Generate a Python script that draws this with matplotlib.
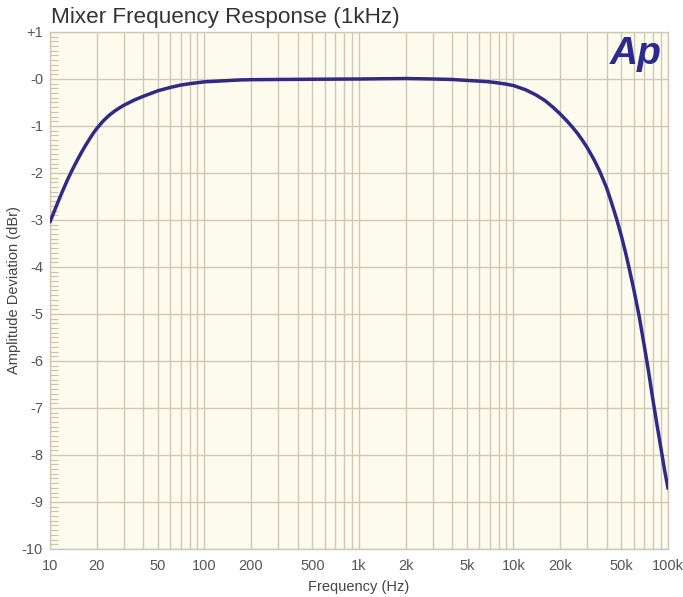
import matplotlib
matplotlib.use("Agg")
import matplotlib.pyplot as plt
from matplotlib.ticker import FixedLocator, MultipleLocator, NullFormatter

plt.rcParams['font.family'] = ['Liberation Sans', 'DejaVu Sans']

# Data
freq_hz = [10, 11, 12, 13, 14, 15, 16, 17, 18, 19, 20, 22, 24, 26, 28, 30, 35, 40,
           50, 60, 70, 80, 100, 130, 170, 200, 300, 500, 1000, 2000, 3000, 4000,
           5000, 6000, 7000, 8000, 9000, 10000, 12000, 14000, 16000, 18000, 20000,
           22000, 24000, 26000, 28000, 30000, 33000, 36000, 40000, 43000, 46600,
           50000, 53000, 56000, 60000, 65000, 70000, 75000, 80000, 85000, 91000,
           95000, 100000]
dev_dbr = [-3.04, -2.70, -2.40, -2.14, -1.92, -1.73, -1.56, -1.41, -1.28, -1.16,
           -1.06, -0.90, -0.78, -0.69, -0.62, -0.56, -0.45, -0.37,
           -0.25, -0.18, -0.13, -0.10, -0.06, -0.04, -0.02, -0.015, -0.01, -0.005,
           0.0, 0.01, 0.0, -0.01,
           -0.03, -0.045, -0.06, -0.085, -0.11, -0.14, -0.23, -0.34, -0.46, -0.60,
           -0.74, -0.88, -1.02, -1.16, -1.31, -1.46, -1.70, -1.95, -2.31, -2.62,
           -2.99, -3.35, -3.68, -4.02, -4.47, -5.04, -5.65, -6.24, -6.84, -7.37,
           -7.95, -8.32, -8.71]

x_ticks = [10, 20, 50, 100, 200, 500, 1000, 2000, 5000, 10000, 20000, 50000, 100000]
x_tick_labels = ["10", "20", "50", "100", "200", "500", "1k", "2k", "5k", "10k", "20k", "50k", "100k"]
y_ticks = [1, 0, -1, -2, -3, -4, -5, -6, -7, -8, -9, -10]
y_tick_labels = ["+1", "-0", "-1", "-2", "-3", "-4", "-5", "-6", "-7", "-8", "-9", "-10"]

title = "Mixer Frequency Response (1kHz)"
x_label = "Frequency (Hz)"
y_label = "Amplitude Deviation (dBr)"

fig = plt.figure(figsize=(6.83, 5.97), dpi=100)
ax = fig.add_axes([50/683, 1 - 549/597, 618/683, 517/597])
ax.set_facecolor("#FDFBEE")

ax.set_xscale("log")
ax.set_xlim(10, 100000)
ax.set_ylim(-10, 1)

grid_color = "#CDC9B6"
vlines = [m * 10**d for d in range(1, 5) for m in range(1, 10)] + [100000]
for v in vlines:
    ax.axvline(v, color=grid_color, lw=1.0, zorder=1)
for yv in range(-10, 2):
    ax.axhline(yv, color=grid_color, lw=1.0, zorder=1)

ax.plot(freq_hz, dev_dbr, color="#2E2A85", lw=2.5, zorder=3,
        solid_capstyle="round", solid_joinstyle="round")

ax.xaxis.set_major_locator(FixedLocator(x_ticks))
ax.set_xticklabels(x_tick_labels)
ax.xaxis.set_minor_locator(FixedLocator([]))
ax.xaxis.set_minor_formatter(NullFormatter())
ax.set_yticks(y_ticks)
ax.set_yticklabels(y_tick_labels)
ax.yaxis.set_minor_locator(MultipleLocator(0.1))

ax.tick_params(axis="x", which="major", length=0, pad=7, labelsize=10.5, labelcolor="#555555")
ax.tick_params(axis="y", which="major", length=0, pad=5, labelsize=10.5, labelcolor="#555555")
ax.tick_params(axis="y", which="minor", direction="in", length=6, width=0.8, color="#C8C4B2")

for s in ax.spines.values():
    s.set_color(grid_color)
    s.set_linewidth(1.0)

ax.set_xlabel(x_label, fontsize=10.5, color="#444444", labelpad=5)
ax.set_ylabel(y_label, fontsize=10.5, color="#444444")
ax.yaxis.set_label_coords(-0.047, 0.5)

fig.text(51/683, 1 - 17/597, title, fontsize=16.2, color="#333333", ha="left", va="center")

ax.text(0.99, 0.958, "Ap", transform=ax.transAxes, fontsize=28, fontweight="heavy",
        fontstyle="italic", color="#2B2A8F", ha="right", va="center", zorder=4)

fig.savefig("out.png", dpi=100, facecolor="white")
